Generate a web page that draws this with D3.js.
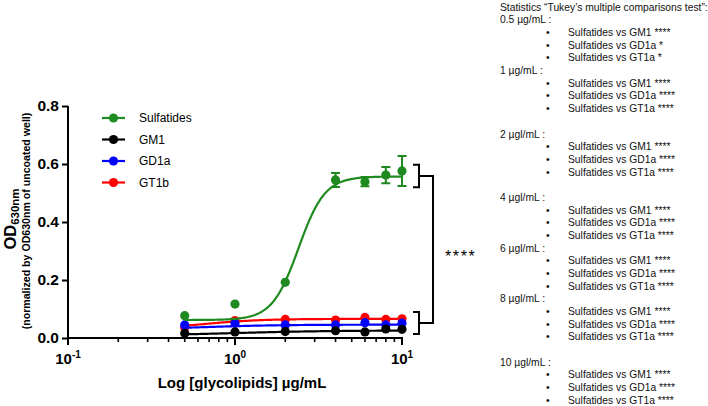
<!DOCTYPE html>
<html><head><meta charset="utf-8">
<script src="https://cdn.jsdelivr.net/npm/d3@7"></script>
<style>body{margin:0;background:#fff}svg{display:block}text{font-family:"Liberation Sans",Arial,sans-serif}</style>
</head><body><svg id="c" width="708" height="406"></svg>
<script>
// ---- data ----
const concentrations = [0.5, 1, 2, 4, 6, 8, 10];
const seriesNames = ["Sulfatides", "GM1", "GD1a", "GT1b"];
const sulfatides = [0.077, 0.117, 0.192, 0.545, 0.539, 0.562, 0.576];
const sulfatidesErr = [0, 0, 0, 0.024, 0.016, 0.028, 0.052];
const gm1 = [0.016, 0.021, 0.022, 0.025, 0.021, 0.031, 0.030];
const gd1a = [0.045, 0.051, 0.045, 0.045, 0.053, 0.045, 0.051];
const gt1b = [0.036, 0.060, 0.064, 0.062, 0.071, 0.064, 0.066];
// 4-parameter logistic fit parameters: [bottom, top, EC50, hill]
const fitSulfatides = [0.062, 0.557, 2.4, 5.5];
const fitGM1 = [0.008, 0.026, 1.0, 1.5];
const fitGD1a = [0.030, 0.046, 0.7, 2.0];
const fitGT1b = [0.030, 0.066, 0.65, 2.5];
const yTicks = [0.0, 0.2, 0.4, 0.6, 0.8];
const xMajorTicks = [0.1, 1, 10];
const xTickExponents = ["-1", "0", "1"];
const statTitle = "Statistics \u201CTukey\u2019s multiple comparisons test\u201D:";
const statConcs = ["0.5 \u00B5g/mL :", "1 \u00B5g/mL :", "2 \u00B5gl/mL :", "4 \u00B5gl/mL :", "6 \u00B5gl/mL :", "8 \u00B5gl/mL :", "10 \u00B5gl/mL :"];
const statComparisons = ["Sulfatides vs GM1", "Sulfatides vs GD1a", "Sulfatides vs GT1a"];
const statSignif = [["****","*","*"],["****","****","****"],["****","****","****"],["****","****","****"],["****","****","****"],["****","****","****"],["****","****","****"]];
const statBlankAfter = [false, true, true, false, false, true, false];

const colors = ["#1f8a1f", "#000000", "#0000ff", "#ff0000"];
const svg = d3.select("#c");
const x = d3.scaleLog().domain([0.1, 10]).range([68, 402]);
const y = d3.scaleLinear().domain([0, 0.8]).range([338, 106]);
const font = '"Liberation Sans",Arial,sans-serif';

// axes
const yAxis = svg.append("g").attr("transform","translate(68,0)")
  .call(d3.axisLeft(y).tickValues(yTicks).tickFormat(d3.format(".1f")).tickSize(6).tickPadding(3));
yAxis.select(".domain").attr("stroke-width",2).attr("d","M0,106V338");
yAxis.selectAll(".tick line").attr("stroke-width",2);
yAxis.selectAll(".tick text").attr("font-size",15.5).attr("font-weight","bold").attr("font-family",font).attr("fill","#000");

const minor = [];
[0.1, 1].forEach(d => { for (let k=2;k<=9;k++) minor.push(d*k); });
const xg = svg.append("g");
xg.append("line").attr("x1",67).attr("x2",x(10)+1).attr("y1",338).attr("y2",338).attr("stroke","#000").attr("stroke-width",2);
xg.selectAll(".mj").data(xMajorTicks).join("line").attr("x1",d=>x(d)).attr("x2",d=>x(d)).attr("y1",338).attr("y2",345).attr("stroke","#000").attr("stroke-width",2);
xg.selectAll(".mn").data(minor).join("line").attr("x1",d=>x(d)).attr("x2",d=>x(d)).attr("y1",338).attr("y2",342).attr("stroke","#000").attr("stroke-width",1.6);
const xl = xg.selectAll(".xl").data(xMajorTicks).join("text")
  .attr("x",d=>x(d)).attr("y",364).attr("text-anchor","middle").attr("font-weight","bold").attr("font-size",15);
xl.append("tspan").text("10");
xl.append("tspan").attr("font-size",10).attr("dy",-6).text((d,i)=>xTickExponents[i]);

svg.append("text").attr("x",242).attr("y",388).attr("text-anchor","middle").attr("font-weight","bold").attr("font-size",15).text("Log [glycolipids] \u00B5g/mL");

// y title
const yt = svg.append("text").attr("transform","translate(16,219) rotate(-90)").attr("text-anchor","middle").attr("font-weight","bold").attr("font-size",16.5);
yt.append("tspan").text("OD");
yt.append("tspan").attr("font-size",11.5).attr("dy",3).text("630nm");
svg.append("text").attr("transform","translate(29.5,221) rotate(-90)").attr("text-anchor","middle").attr("font-weight","bold").attr("font-size",10.6).text("(normalized by OD630nm of uncoated well)");

// series
const values = [sulfatides, gm1, gd1a, gt1b];
const fits = [fitSulfatides, fitGM1, fitGD1a, fitGT1b];
const logistic = (p, c) => p[0] + (p[1]-p[0]) / (1 + Math.pow(p[2]/c, p[3]));
const curveXs = d3.range(0, 201).map(i => Math.pow(10, Math.log10(0.5) + i/200*(1 - Math.log10(0.5))));
const line = d3.line().x(d=>x(d[0])).y(d=>y(d[1]));
const order = [3, 2, 1, 0];
order.forEach(si => {
  const g = svg.append("g");
  g.append("path").attr("d", line(curveXs.map(c=>[c, logistic(fits[si], c)]))).attr("fill","none").attr("stroke",colors[si]).attr("stroke-width",2.2);
  if (si === 0) {
    const eb = concentrations.map((c,i)=>({c, v:sulfatides[i], e:sulfatidesErr[i]})).filter(d=>d.e>0);
    g.selectAll(".eb").data(eb).join("path")
      .attr("d", d=>`M${x(d.c)},${y(d.v+d.e)}V${y(d.v-d.e)}M${x(d.c)-4.5},${y(d.v+d.e)}h9M${x(d.c)-4.5},${y(d.v-d.e)}h9`)
      .attr("stroke",colors[0]).attr("stroke-width",2).attr("fill","none");
  }
  g.selectAll("circle").data(concentrations).join("circle").attr("cx",d=>x(d)).attr("cy",(d,i)=>y(values[si][i])).attr("r",4.6).attr("fill",colors[si]);
});

// legend
const lg = svg.append("g");
seriesNames.forEach((n,i)=>{
  const yy = 118 + i*21.5;
  lg.append("line").attr("x1",102).attr("x2",125).attr("y1",yy).attr("y2",yy).attr("stroke",colors[i]).attr("stroke-width",2.2);
  lg.append("circle").attr("cx",113.5).attr("cy",yy).attr("r",4.6).attr("fill",colors[i]);
  lg.append("text").attr("x",139).attr("y",yy+4.3).attr("font-size",12).text(n);
});

// brackets
function bracket(lo, hi) {
  const y1 = y(hi), y2 = y(lo);
  svg.append("path").attr("d",`M413,${y1}H419V${y2}H413`).attr("fill","none").attr("stroke","#000").attr("stroke-width",2);
  return (y1+y2)/2;
}
const m1 = bracket(0.52, 0.597);
const m2 = bracket(0.014, 0.09);
svg.append("path").attr("d",`M419,${m1}H433V${m2}H419`).attr("fill","none").attr("stroke","#000").attr("stroke-width",2);
svg.append("text").attr("x",445).attr("y",262).attr("font-size",16).attr("letter-spacing",1.6).text("****");

// statistics text
const st = svg.append("g").attr("font-size",10.3).attr("fill","#111");
const step = 12.68;
let li = 0;
const ly = i => 7 + i*step + 3.7;
st.append("text").attr("x",500).attr("y",ly(li++)).text(statTitle);
statConcs.forEach((c,ci)=>{
  st.append("text").attr("x",500).attr("y",ly(li++)).text(c);
  statComparisons.forEach((cmp,k)=>{
    st.append("text").attr("x",546).attr("y",ly(li)).text("\u2022");
    st.append("text").attr("x",568).attr("y",ly(li++)).text(cmp + " " + statSignif[ci][k]);
  });
  if (statBlankAfter[ci]) li++;
});
</script></body></html>
